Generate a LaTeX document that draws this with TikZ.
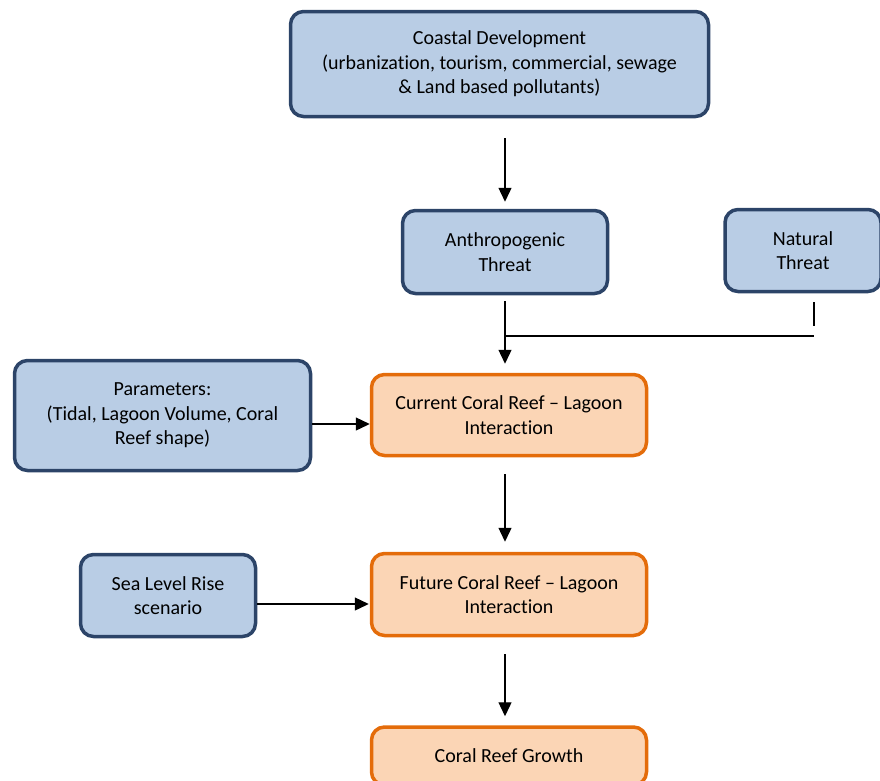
\documentclass[tikz,border=0pt]{standalone}
\usepackage{fontspec}
\setmainfont{Carlito}[Ligatures=NoCommon]
\usetikzlibrary{arrows.meta}
\definecolor{boxblue}{HTML}{B9CDE5}
\definecolor{lineblue}{HTML}{2C4468}
\definecolor{boxorange}{HTML}{FBD5B5}
\definecolor{lineorange}{HTML}{E46C0A}
\tikzset{
	bluebox/.style={draw=lineblue,fill=boxblue,line width=3.5pt,rounded corners=13pt,
		align=center,inner sep=0pt,font=\fontsize{20}{24.5}\selectfont},
	orangebox/.style={bluebox,draw=lineorange,fill=boxorange},
	arr/.style={-{Triangle[width=13pt,length=14pt]},line width=1.3pt},
	plain/.style={line width=1.3pt}
}
\begin{document}
\begin{tikzpicture}[x=1pt,y=-1pt]
	\useasboundingbox (0,0) rectangle (880,780);
	
	% Cajas superiores
	\node[bluebox,minimum width=418,minimum height=105] (coastal) at (499.5,64)
		{Coastal Development\\(urbanization, tourism, commercial, sewage\\\& Land based pollutants)};
	\node[bluebox,minimum width=205,minimum height=83] (anthro) at (505,252) {Anthropogenic\\Threat};
	\node[bluebox,minimum width=156,minimum height=82] (natural) at (803,250.5) {Natural\\Threat};
	
	% Cajas del centro
	\node[bluebox,minimum width=296,minimum height=110] (params) at (162.5,415.5)
		{Parameters:\\(Tidal, Lagoon Volume, Coral\\Reef shape)};
	\node[orangebox,minimum width=275,minimum height=81] (current) at (509,415)
		{Current Coral Reef -- Lagoon\\Interaction};
	
	\node[bluebox,minimum width=175,minimum height=82] (sea) at (168,595.5) {Sea Level Rise\\scenario};
	\node[orangebox,minimum width=275,minimum height=82] (future) at (509,594.5)
		{Future Coral Reef -- Lagoon\\Interaction};
	
	% Caja inferior
	\node[orangebox,minimum width=275,minimum height=58] (growth) at (509,756) {Coral Reef Growth};
	
	% Flechas verticales
	\draw[arr,shorten <=20pt,shorten >=7pt] (coastal.south -| anthro.north) -- (anthro.north);
	\draw[arr,shorten <=6pt,shorten >=9pt] (anthro.south) -- (anthro.south |- current.north);
	\draw[arr,shorten <=17pt,shorten >=10pt] (current.south -| anthro.south) -- (anthro.south |- future.north);
	\draw[arr,shorten <=17pt,shorten >=9pt] (future.south -| anthro.south) -- (anthro.south |- growth.north);
	
	% Amenaza natural
	\coordinate (join) at (anthro.south |- 0,336);
	\coordinate (natfoot) at (814,336);
	\draw[plain] ([yshift=-9pt]natural.south -| natfoot) -- ([yshift=10pt]natfoot);
	\draw[plain] (join) -- (natfoot);
	
	% Flechas horizontales
	\draw[arr] (params.east |- 0,424) -- (current.west |- 0,424);
	\draw[arr] (sea.east |- 0,604) -- ([xshift=-1pt]future.west |- 0,604);
	
\end{tikzpicture}
\end{document}
